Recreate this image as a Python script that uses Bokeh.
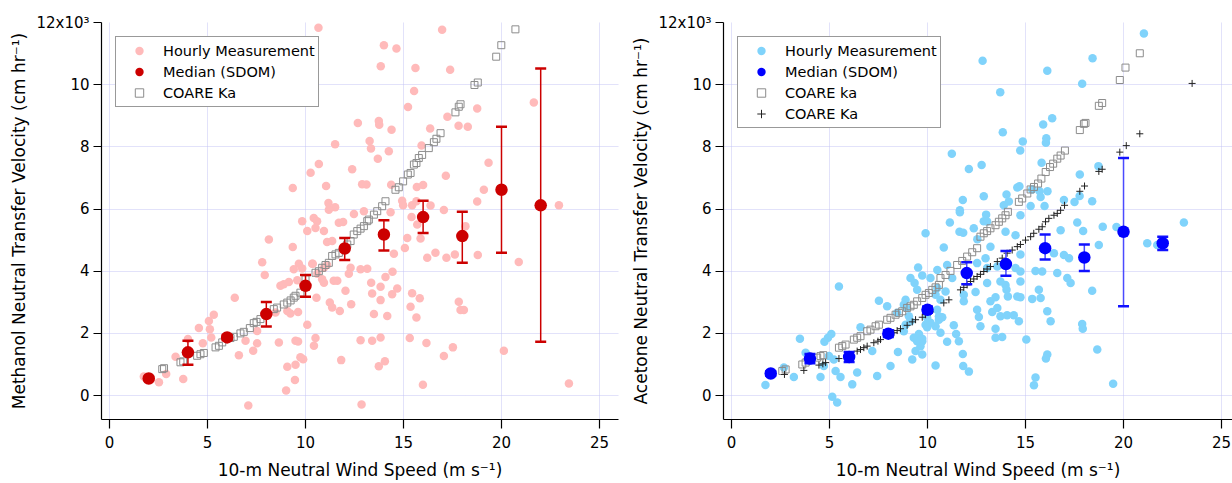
from bokeh.plotting import figure
from bokeh.models import Range1d, FixedTicker, Legend, LegendItem
from bokeh.layouts import row
from bokeh.embed import file_html
from bokeh.resources import INLINE

FONT = "DejaVu Sans"

# ---------------- Methanol (left) ----------------
meoh_hourly = [
    (10.66,11.83),(16.97,11.77),(14.0,11.27),(14.64,11.16),(13.84,10.59),(15.61,10.54),(17.38,10.48),
    (15.54,9.80),(15.23,9.28),(18.76,9.23),(21.65,9.43),(17.24,8.97),(17.81,8.68),(18.28,8.65),
    (16.36,8.59),(12.67,8.77),(13.74,8.83),(13.76,8.71),(14.39,8.55),(11.51,8.08),(13.27,8.19),
    (13.34,7.95),(14.25,7.86),(13.69,7.62),(15.92,8.04),(10.68,7.45),(10.26,7.17),(12.38,7.28),
    (19.34,7.49),(17.16,7.07),(11.05,6.74),(12.89,6.80),(13.11,6.79),(14.37,6.78),(15.68,6.71),
    (16.0,6.77),(19.1,6.62),(18.76,6.24),(11.17,6.19),(11.51,6.06),(11.19,5.98),(12.47,5.84),
    (12.98,5.93),(14.34,5.90),(14.93,6.27),(14.98,6.12),(15.44,6.12),(15.66,6.25),(16.38,6.11),
    (17.06,5.97),(15.41,5.74),(22.93,6.12),(9.83,5.61),(10.42,5.71),(10.59,5.61),(11.7,5.56),
    (11.92,5.58),(15.7,5.50),(18.16,5.45),(15.19,5.07),(15.87,5.05),(10.09,5.29),(10.51,5.39),
    (10.94,5.29),(9.35,6.68),(8.13,5.02),(11.1,4.94),(11.36,4.97),
    (14.51,4.56),(15.07,4.75),(16.21,4.43),(16.63,4.59),(17.19,4.43),(17.62,4.54),(18.79,4.52),
    (20.88,4.30),(10.37,4.24),(10.94,4.11),(11.1,4.2),(12.3,4.11),(12.21,3.92),(12.81,4.06),
    (13.15,4.08),(14.44,3.98),(14.08,3.81),(13.35,3.63),(13.83,3.50),(14.68,3.44),(10.85,3.74),
    (10.94,3.63),(11.44,3.69),(11.62,3.69),(12.04,3.37),(10.56,3.15),(13.40,3.28),(13.83,3.07),
    (14.42,3.26),(15.44,3.29),(15.83,3.13),(11.24,2.99),(11.36,2.83),(11.75,2.72),(12.33,2.94),
    (13.49,2.62),(14.17,2.56),(15.36,2.86),(15.66,2.51),(17.82,3.02),(17.91,2.75),(18.08,2.75),
    (10.09,2.28),(10.51,1.85),(10.43,1.60),(9.88,1.17),(12.81,1.78),(13.40,1.76),(13.83,1.87),
    (11.82,1.14),(13.74,0.94),(14.05,1.10),(15.32,1.85),(16.17,1.69),(17.06,1.27),(17.52,1.55),
    (20.12,1.44),(15.99,0.35),(23.44,0.39),(12.86,-0.29),
    (9.35,4.78),(7.79,4.29),(7.92,3.88),(9.66,4.24),(10.34,4.24),(9.4,4.06),(9.83,4.09),
    (10.6,3.92),(8.72,3.53),(8.89,3.58),(9.15,3.65),(9.58,3.71),(6.39,3.15),(9.07,2.72),(9.62,2.69),
    (9.23,2.64),(8.47,2.67),(7.53,2.08),(5.32,2.60),(5.07,2.40),(4.56,2.17),(5.12,2.13),
    (5.19,1.87),(4.76,1.68),(4.0,1.82),(6.94,1.76),(7.53,1.68),(8.64,1.71),(9.49,1.76),
    (9.62,1.74),(6.6,1.30),(7.33,1.44),(9.74,1.23),(9.07,0.93),(9.49,0.99),(9.46,0.50),
    (9.01,0.16),(7.08,-0.32),(3.37,1.25),(3.76,0.53),(2.89,0.69),(2.52,0.43),(1.75,0.61),
]
meoh_hourly_x = [p[0] for p in meoh_hourly]
meoh_hourly_y = [p[1] for p in meoh_hourly]

meoh_med_x = [2, 4, 6, 8, 10, 12, 14, 16, 18, 20, 22]
meoh_med_y = [0.55, 1.39, 1.87, 2.62, 3.53, 4.73, 5.18, 5.74, 5.13, 6.62, 6.12]
meoh_med_hi = [0.60, 1.76, 1.95, 3.01, 3.88, 5.07, 5.64, 6.27, 5.91, 8.65, 10.52]
meoh_med_lo = [0.50, 0.99, 1.79, 2.22, 3.18, 4.36, 4.67, 5.23, 4.27, 4.59, 1.73]

meoh_coare_x = [2.69,2.78,3.62,3.76,4.47,4.64,4.81,5.41,5.58,5.75,6.17,6.34,6.68,6.85,7.16,7.36,7.50,
                7.70,8.38,8.55,8.89,9.07,9.24,9.40,9.49,9.74,10.0,10.51,10.68,10.85,11.02,11.19,11.36,
                11.53,11.70,12.13,12.30,12.46,12.64,12.81,12.98,13.15,13.23,13.49,13.66,13.91,14.08,
                14.59,14.76,14.98,15.22,15.36,15.53,15.66,15.78,15.95,16.29,16.55,16.68,16.89,17.65,
                17.82,17.91,18.62,18.79,19.73,19.99,20.71]
meoh_coare_y = [0.85,0.88,1.07,1.10,1.28,1.33,1.37,1.55,1.60,1.71,1.85,1.89,2.00,2.05,2.17,2.33,2.37,
                2.46,2.78,2.83,2.93,2.99,3.06,3.15,3.21,3.31,3.74,3.95,4.00,4.11,4.20,4.27,4.49,
                4.54,4.59,4.86,4.97,5.18,5.29,5.37,5.45,5.61,5.66,5.82,5.93,6.09,6.25,
                6.62,6.70,6.89,7.11,7.16,7.43,7.48,7.64,7.74,7.96,8.15,8.26,8.44,9.11,
                9.29,9.37,9.99,10.07,10.90,11.27,11.78]

# ---------------- Acetone (right) ----------------
acet_hourly = [
    (9.9,5.22),(21.04,11.65),(12.81,10.77),(18.42,10.85),(16.11,10.45),(17.89,10.03),(13.71,9.76),
    (16.36,8.92),(15.90,8.72),(13.84,8.47),(16.06,8.28),(16.04,8.13),(14.86,8.17),(14.73,7.88),
    (11.24,7.78),(12.11,7.29),(12.76,7.42),(15.82,7.49),(18.72,7.38),(17.77,7.11),(14.69,6.73),
    (14.58,6.69),(14.03,6.47),(12.87,6.41),(11.80,6.29),(15.34,6.63),(15.72,6.57),(15.77,6.39),
    (15.97,6.10),(16.12,6.57),(16.96,6.29),(17.50,6.23),(17.76,6.42),(18.40,6.25),(11.65,5.96),
    (11.65,5.90),(12.99,5.82),(13.04,5.60),(13.89,6.12),(14.15,6.24),(14.74,5.80),(15.26,6.10),
    (11.14,5.57),(12.36,5.38),(11.63,5.27),(11.82,5.24),(12.87,5.61),(16.79,5.32),(17.64,5.57),
    (17.94,5.29),(18.94,5.43),(19.64,5.42),(23.08,5.57),(13.98,5.27),(14.49,5.16),(12.54,5.03),
    (13.21,4.79),(12.96,4.42),(11.0,4.20),(13.72,3.67),(8.79,2.92),(12.45,3.33),(14.58,3.19),
    (21.21,4.90),(21.72,4.84),(10.83,4.76),(14.74,4.54),(18.40,3.37),(15.68,3.40),(15.34,3.11),
    (15.77,3.14),(14.74,3.16),(14.10,3.19),(13.98,3.56),(13.21,3.03),(13.30,2.69),(13.56,2.82),
    (13.72,2.55),(14.06,2.58),(14.40,2.58),(14.66,2.39),(12.70,2.23),(13.47,2.15),(13.81,1.88),
    (13.47,1.86),(16.11,2.71),(16.28,2.39),(17.89,2.30),(17.92,2.15),(15.04,1.80),(18.66,1.48),
    (16.11,1.32),(16.04,1.19),(15.51,0.58),(15.43,0.33),(19.47,0.38),(11.82,0.95),(12.11,0.77),
    (10.41,0.97),(11.80,1.34),(11.46,1.98),(11.60,1.75),(11.0,1.73),(10.66,2.02),(10.15,2.34),
    (10.58,2.44),(10.75,2.52),(9.98,2.20),(9.73,1.75),(9.73,1.32),(11.34,2.26),(12.53,2.76),
    (12.62,2.53),(11.85,3.03),(11.85,3.24),(10.66,3.08),(10.92,3.35),(10.5,3.46),(13.04,3.62),
    (13.47,3.16),(14.03,3.40),(14.74,3.67),(11.26,3.78),(10.5,4.04),(12.53,4.26),(13.04,4.10),
    (13.56,4.15),(14.49,4.10),(14.74,3.99),(15.51,4.01),(15.85,3.99),(16.62,3.94),(17.13,3.78),
    (17.30,3.62),(16.45,4.58),(16.96,4.52),(17.22,4.42),(18.74,4.84),
    (5.48,3.51),(3.49,1.83),(5.09,1.98),(4.92,1.86),(4.74,1.73),(6.58,2.20),(7.52,3.05),
    (7.94,2.87),(9.52,4.12),(9.13,3.78),(9.34,3.62),(9.73,3.86),(10.15,3.78),(8.88,3.08),
    (9.47,3.40),(9.05,2.55),(9.13,2.39),(8.88,2.28),(8.79,2.07),(9.30,1.86),(9.47,1.75),
    (9.64,1.59),(9.39,1.43),(9.22,1.16),(8.11,0.95),(8.49,1.40),(7.43,0.63),(6.41,0.74),
    (6.16,0.36),(4.54,0.60),(5.31,0.79),(5.56,0.60),(5.14,-0.04),(5.39,-0.22),(3.18,0.60),
    (2.67,0.90),(1.73,0.34),(3.78,1.38),(4.97,1.27),(5.22,1.16),(4.71,0.95),(7.18,1.43),
    (8.45,2.66),(8.93,2.82),(9.56,1.98),(9.73,1.83),(10.41,3.24),(9.90,2.28),(9.98,2.50),
    (10.41,2.23),(10.49,2.76),(10.58,2.55),
]
acet_hourly_x = [p[0] for p in acet_hourly]
acet_hourly_y = [p[1] for p in acet_hourly]

acet_med_x = [2, 4, 6, 8, 10, 12, 14, 16, 18, 20, 22]
acet_med_y = [0.71, 1.19, 1.24, 1.99, 2.76, 3.94, 4.23, 4.74, 4.44, 5.27, 4.90]
acet_med_hi = [0.78, 1.34, 1.40, 2.10, 2.86, 4.29, 4.65, 5.18, 4.86, 7.64, 5.11]
acet_med_lo = [0.64, 1.04, 1.08, 1.88, 2.66, 3.58, 3.85, 4.38, 4.01, 2.87, 4.68]

acet_ka_sq_x = [2.59,2.76,3.61,3.78,4.37,4.54,4.68,5.48,5.65,5.82,6.24,6.41,6.58,6.92,7.09,7.35,7.52,
                7.94,8.11,8.37,8.54,8.71,8.96,9.13,9.30,9.47,9.73,9.90,10.07,10.24,10.41,10.58,
                10.66,10.92,11.17,11.51,11.77,12.02,12.28,12.53,12.70,12.87,13.04,13.21,13.47,13.64,
                13.81,13.98,14.10,14.66,14.83,15.09,15.26,15.43,15.64,15.81,16.03,16.25,16.41,16.62,
                16.79,17.01,17.77,17.98,18.06,18.74,18.91,19.81,20.10,20.83]
acet_ka_sq_y = [0.79,0.84,1.00,1.06,1.22,1.27,1.30,1.54,1.59,1.64,1.80,1.86,1.91,2.07,2.12,2.23,2.28,
                2.44,2.50,2.60,2.66,2.71,2.82,2.87,2.92,3.03,3.14,3.24,3.30,3.40,3.48,3.56,
                3.78,3.88,4.01,4.20,4.33,4.47,4.61,4.74,5.11,5.22,5.29,5.38,5.48,5.59,
                5.70,5.80,5.91,6.23,6.34,6.50,6.63,6.71,6.82,6.98,7.19,7.35,7.46,7.62,
                7.72,7.88,8.54,8.74,8.77,9.32,9.41,10.15,10.55,11.01]

acet_Ka_x = [2.70,3.69,4.46,4.66,4.80,5.48,6.41,6.58,6.75,6.92,7.26,7.47,7.60,8.28,8.45,8.62,8.96,
             9.22,9.39,9.73,9.90,10.15,10.83,11.09,11.68,11.85,12.02,12.19,12.36,12.53,12.70,12.87,
             13.04,13.21,13.56,13.81,14.06,14.32,14.58,14.74,15.00,15.26,15.42,15.68,15.85,16.02,
             16.19,16.45,16.62,16.79,16.99,17.77,18.01,18.74,18.91,19.81,20.14,20.83,23.50]
acet_Ka_y = [0.68,0.81,0.98,1.02,1.06,1.19,1.43,1.48,1.54,1.59,1.70,1.75,1.80,2.02,2.09,2.15,2.26,
             2.37,2.44,2.52,2.60,2.69,2.98,3.08,3.40,3.48,3.56,3.67,3.75,3.83,3.90,3.99,
             4.07,4.15,4.31,4.42,4.58,4.68,4.79,4.86,5.00,5.11,5.22,5.35,5.43,5.59,
             5.70,5.80,5.86,5.96,6.12,6.57,6.74,7.21,7.28,7.83,8.04,8.42,10.04]

# ---------------- shared axis text ----------------
x_ticks = [0, 5, 10, 15, 20, 25]
y_ticks = [0, 2, 4, 6, 8, 10, 12]
y_tick_overrides = {12: "12x10\u00b3"}
x_title = "10-m Neutral Wind Speed (m s\u207b\u00b9)"
meoh_y_title = "Methanol Neutral Transfer Velocity (cm hr\u207b\u00b9)"
acet_y_title = "Acetone Neutral Transfer Velocity (cm hr\u207b\u00b9)"


def base_fig(w, xr, yr, bl, br, bt, bb, ytitle):
    p = figure(width=w, height=483, x_range=Range1d(*xr), y_range=Range1d(*yr),
               output_backend="svg", toolbar_location=None,
               min_border_left=bl, min_border_right=br, min_border_top=bt, min_border_bottom=bb)
    p.outline_line_color = None
    p.background_fill_color = "white"
    p.xaxis.ticker = FixedTicker(ticks=x_ticks)
    p.yaxis.ticker = FixedTicker(ticks=y_ticks)
    p.yaxis.major_label_overrides = y_tick_overrides
    for ax in (p.xaxis[0], p.yaxis[0]):
        ax.axis_line_color = "black"
        ax.axis_line_width = 1.2
        ax.major_tick_line_color = "black"
        ax.major_tick_line_width = 1.2
        ax.major_tick_in = 0
        ax.minor_tick_line_color = None
        ax.major_label_text_font = FONT
        ax.major_label_text_font_size = "15px"
        ax.major_label_text_color = "black"
        ax.axis_label_text_font = FONT
        ax.axis_label_text_font_size = "17px"
        ax.axis_label_text_font_style = "normal"
        ax.axis_label_text_color = "black"
    p.xaxis.major_tick_out = 9
    p.xaxis.major_label_standoff = 7
    p.xaxis.axis_label_standoff = 9
    p.yaxis.major_tick_out = 8
    p.yaxis.major_label_standoff = 4
    p.yaxis.axis_label_standoff = 4
    p.xaxis.axis_label = x_title
    p.yaxis.axis_label = ytitle
    for g in (p.xgrid[0], p.ygrid[0]):
        g.grid_line_color = "#c4c4f4"
        g.grid_line_dash = "1 1"
        g.grid_line_width = 1
    p.xgrid.ticker = FixedTicker(ticks=x_ticks)
    p.ygrid.ticker = FixedTicker(ticks=y_ticks)
    return p


def add_legend(p, items):
    leg = Legend(items=items, location="top_left", margin=14, padding=3, spacing=0,
                 label_height=21, glyph_height=21, glyph_width=40, label_standoff=4,
                 label_text_font=FONT, label_text_font_size="14.5px", label_text_color="black",
                 border_line_color="#333333", border_line_width=1.5,
                 background_fill_color="white", background_fill_alpha=1.0)
    p.add_layout(leg)


# ---- left panel (figure spans page x 0..620)
p1 = base_fig(620, (-0.41, 25.97), (-0.77, 12.0), 101, 2, 20, 64, meoh_y_title)
r1h = p1.scatter(meoh_hourly_x, meoh_hourly_y, size=8.5, marker="circle",
                 fill_color="#ffbaba", line_color=None)
r1c = p1.scatter(meoh_coare_x, meoh_coare_y, size=7, marker="square",
                 fill_color=None, line_color="#8c8c8c", line_width=1)
p1.segment(meoh_med_x, meoh_med_lo, meoh_med_x, meoh_med_hi, line_color="#cc0000", line_width=1.5)
p1.scatter(meoh_med_x, meoh_med_hi, marker="dash", size=11, line_color="#cc0000", line_width=2.5)
p1.scatter(meoh_med_x, meoh_med_lo, marker="dash", size=11, line_color="#cc0000", line_width=2.5)
r1m = p1.scatter(meoh_med_x, meoh_med_y, size=12.5, marker="circle",
                 fill_color="#cc0000", line_color=None)
add_legend(p1, [LegendItem(label="Hourly Measurement", renderers=[r1h]),
                LegendItem(label="Median (SDOM)", renderers=[r1m]),
                LegendItem(label="COARE Ka", renderers=[r1c])])

# ---- right panel (figure spans page x 620..1232)
p2 = base_fig(612, (-0.41, 25.56), (-0.77, 12.0), 103, 0, 22, 61, acet_y_title)
r2h = p2.scatter(acet_hourly_x, acet_hourly_y, size=8.5, marker="circle",
                 fill_color="#80d3fb", line_color=None)
r2s = p2.scatter(acet_ka_sq_x, acet_ka_sq_y, size=7, marker="square",
                 fill_color=None, line_color="#8c8c8c", line_width=1)
r2p = p2.scatter(acet_Ka_x, acet_Ka_y, size=7, marker="cross",
                 line_color="#222222", line_width=1)
p2.segment(acet_med_x, acet_med_lo, acet_med_x, acet_med_hi, line_color="#4a4aff", line_width=1.5)
p2.scatter(acet_med_x, acet_med_hi, marker="dash", size=11, line_color="#1010ff", line_width=2.5)
p2.scatter(acet_med_x, acet_med_lo, marker="dash", size=11, line_color="#1010ff", line_width=2.5)
r2m = p2.scatter(acet_med_x, acet_med_y, size=12.5, marker="circle",
                 fill_color="#0000ff", line_color=None)
add_legend(p2, [LegendItem(label="Hourly Measurement", renderers=[r2h]),
                LegendItem(label="Median (SDOM)", renderers=[r2m]),
                LegendItem(label="COARE ka", renderers=[r2s]),
                LegendItem(label="COARE Ka", renderers=[r2p])])

layout = row(p1, p2)
open("out.html", "w").write(file_html(layout, INLINE))
